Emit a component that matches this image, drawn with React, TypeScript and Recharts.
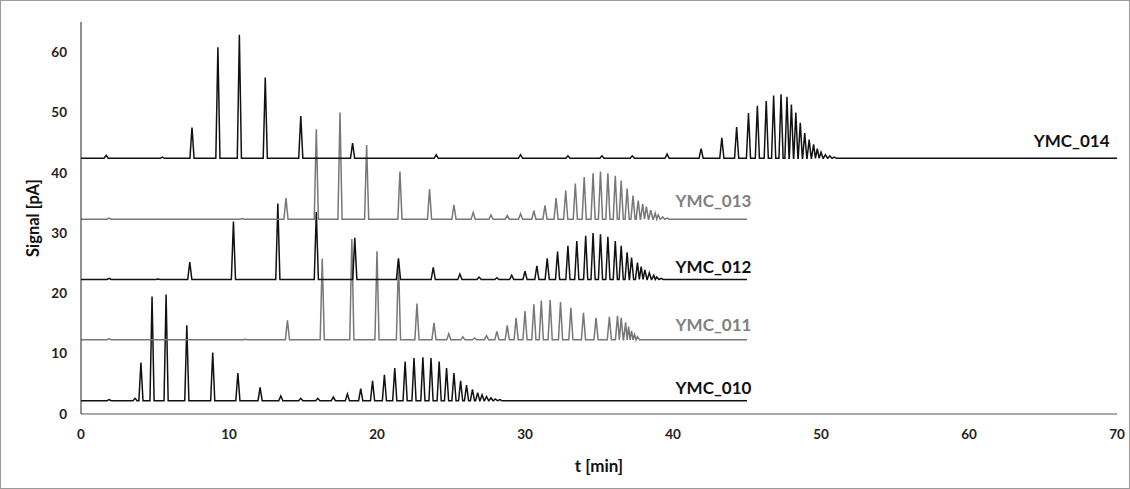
import { LineChart, Line, XAxis, YAxis, ReferenceDot } from 'recharts';

// peak apex times [min] and apex signal [pA]
const T010 = [1.9, 3.65, 4.05, 4.8, 5.75, 7.15, 8.9, 10.6, 12.1, 13.5, 14.85, 16.0, 17.05, 18.0, 18.9, 19.7, 20.5, 21.2, 21.9, 22.5, 23.1, 23.65, 24.2, 24.7, 25.2, 25.65, 26.05, 26.45, 26.8, 27.1, 27.4, 27.7, 28.0, 28.3];
const S010 = [2.4, 2.6, 8.55, 19.5, 19.8, 14.7, 10.2, 6.8, 4.4, 3.0, 2.6, 2.6, 2.8, 3.3, 4.2, 5.5, 6.5, 7.6, 8.7, 9.3, 9.4, 9.3, 8.7, 7.6, 6.8, 5.5, 4.8, 4.1, 3.55, 3.2, 2.9, 2.7, 2.5, 2.4];

const T011 = [1.9, 11.1, 13.95, 16.3, 18.3, 20.0, 21.45, 22.7, 23.85, 24.85, 25.8, 26.6, 27.4, 28.1, 28.8, 29.4, 30.0, 30.6, 31.1, 31.7, 32.4, 33.1, 33.95, 34.8, 35.7, 36.25, 36.5, 36.8, 37.0, 37.2, 37.4, 37.6];
const S011 = [12.5, 12.4, 15.55, 25.8, 29.0, 27.0, 25.5, 18.3, 15.1, 13.3, 12.8, 12.6, 13.0, 13.7, 14.7, 15.95, 17.05, 18.2, 18.8, 18.9, 18.55, 17.6, 16.8, 15.95, 16.1, 16.3, 15.95, 15.2, 14.5, 13.8, 13.2, 12.8];

const T012 = [1.9, 5.2, 7.35, 10.3, 13.3, 15.9, 18.5, 21.45, 23.8, 25.6, 26.9, 28.1, 29.1, 30.0, 30.8, 31.5, 32.2, 32.9, 33.5, 34.1, 34.6, 35.1, 35.6, 36.1, 36.5, 36.9, 37.2, 37.6, 37.85, 38.1, 38.4, 38.7, 38.9, 39.2];
const S012 = [22.5, 22.4, 25.2, 31.9, 34.9, 33.5, 29.2, 25.8, 24.3, 23.2, 22.7, 22.6, 23.0, 23.7, 24.55, 25.8, 26.95, 27.9, 28.7, 29.55, 30.0, 29.8, 29.4, 28.7, 27.9, 26.8, 25.95, 25.1, 24.45, 23.9, 23.4, 23.0, 22.7, 22.5];

const T013 = [1.9, 10.9, 13.85, 15.9, 17.5, 19.3, 21.55, 23.55, 25.2, 26.5, 27.7, 28.8, 29.7, 30.6, 31.35, 32.1, 32.75, 33.4, 34.0, 34.6, 35.1, 35.6, 36.1, 36.5, 36.9, 37.3, 37.65, 37.95, 38.2, 38.5, 38.8, 39.0, 39.3, 39.6];
const S013 = [32.5, 32.4, 35.8, 47.2, 50.0, 44.6, 40.2, 37.3, 34.7, 33.4, 33.0, 32.9, 33.2, 33.7, 34.6, 35.8, 37.05, 38.2, 39.3, 39.9, 40.2, 39.9, 39.5, 38.7, 37.4, 36.2, 35.4, 34.8, 34.4, 33.8, 33.3, 33.0, 32.7, 32.5];

const T014 = [1.7, 5.5, 7.5, 9.25, 10.7, 12.45, 14.85, 18.35, 24.0, 29.7, 32.9, 35.2, 37.25, 39.6, 41.9, 43.3, 44.3, 45.1, 45.7, 46.3, 46.8, 47.3, 47.7, 48.0, 48.3, 48.6, 48.9, 49.2, 49.5, 49.75, 50.0, 50.3, 50.6, 50.9];
const S014 = [42.9, 42.6, 47.5, 60.8, 62.9, 55.8, 49.4, 44.9, 43.0, 43.0, 42.8, 42.8, 42.8, 43.1, 44.0, 45.8, 47.6, 49.9, 51.1, 51.9, 52.8, 53.0, 52.6, 51.3, 50.0, 48.3, 46.6, 45.5, 44.7, 44.0, 43.4, 43.0, 42.8, 42.6];

const baselines = [2.2, 12.3, 22.3, 32.3, 42.4];
const runEnds = [45, 45, 45, 45, 70];
const names = ['YMC_010', 'YMC_011', 'YMC_012', 'YMC_013', 'YMC_014'];
const xTicks = [0, 10, 20, 30, 40, 50, 60, 70];
const yTicks = [0, 10, 20, 30, 40, 50, 60];

const FONT = 'Lato, "Open Sans", sans-serif';

// baseline -> apex -> baseline for every peak
function trace(base: number, end: number, times: number[], tops: number[], w = 0.14) {
  const pts: { t: number; v: number }[] = [{ t: 0, v: base }];
  times.forEach((t, i) => {
    const prev = i > 0 ? times[i - 1] : 0;
    const next = i < times.length - 1 ? times[i + 1] : end;
    const wl = Math.min(w, (t - prev) / 2);
    const wr = Math.min(w, (next - t) / 2);
    pts.push({ t: t - wl, v: base }, { t, v: tops[i] }, { t: t + wr, v: base });
  });
  pts.push({ t: end, v: base });
  return pts;
}

const peaks = [
  [T010, S010],
  [T011, S011],
  [T012, S012],
  [T013, S013],
  [T014, S014],
];
const series = peaks.map(([t, s], i) => trace(baselines[i], runEnds[i], t, s));
const colors = ['#111', '#777', '#111', '#777', '#111'];
const labelPos = [
  { t: 45.3, v: 4.3 },
  { t: 45.3, v: 14.7 },
  { t: 45.3, v: 24.3 },
  { t: 45.3, v: 35.3 },
  { t: 69.5, v: 45.2 },
];

export default function App() {
  return (
    <div
      style={{
        position: 'absolute',
        left: 0,
        top: 0,
        width: 1130,
        height: 489,
        boxSizing: 'border-box',
        border: '1px solid #9a9a9a',
        background: '#fff',
      }}
    >
      <div style={{ position: 'absolute', left: -1, top: -1 }}>
        <LineChart width={1130} height={489} margin={{ top: 22, right: 13, bottom: 15, left: 0 }}>
          <XAxis
            dataKey="t"
            type="number"
            domain={[0, 70]}
            ticks={xTicks}
            allowDuplicatedCategory={false}
            height={60}
            tickSize={0}
            tickMargin={15}
            stroke="#555"
            tick={{ fill: '#222', fontSize: 13.5, fontWeight: 'bold', fontFamily: FONT }}
            label={{ value: 't [min]', position: 'insideBottom', offset: 2, fill: '#111', fontSize: 17, fontWeight: 'bold', fontFamily: FONT }}
          />
          <YAxis
            type="number"
            domain={[0, 65]}
            ticks={yTicks}
            width={81}
            tickSize={0}
            tickMargin={14}
            stroke="#222"
            tick={{ fill: '#222', fontSize: 13.5, fontWeight: 'bold', fontFamily: FONT }}
            label={{
              value: 'Signal [pA]',
              angle: -90,
              position: 'insideLeft',
              offset: 33,
              fill: '#111',
              fontSize: 16.5,
              fontWeight: 'bold',
              fontFamily: FONT,
              style: { textAnchor: 'middle' },
            }}
          />
          {series.map((d, i) => (
            <Line
              key={names[i]}
              data={d}
              dataKey="v"
              type="linear"
              stroke={colors[i]}
              strokeWidth={1.5}
              dot={false}
              activeDot={false}
              isAnimationActive={false}
            />
          ))}
          {names.map((n, i) => (
            <ReferenceDot
              key={n}
              x={labelPos[i].t}
              y={labelPos[i].v}
              r={0}
              fill="none"
              stroke="none"
              label={{
                value: n,
                position: 'left',
                offset: 0,
                fill: colors[i] === '#777' ? '#808080' : '#111',
                fontSize: 17,
                fontWeight: 'bold',
                fontFamily: FONT,
              }}
            />
          ))}
        </LineChart>
      </div>
    </div>
  );
}
